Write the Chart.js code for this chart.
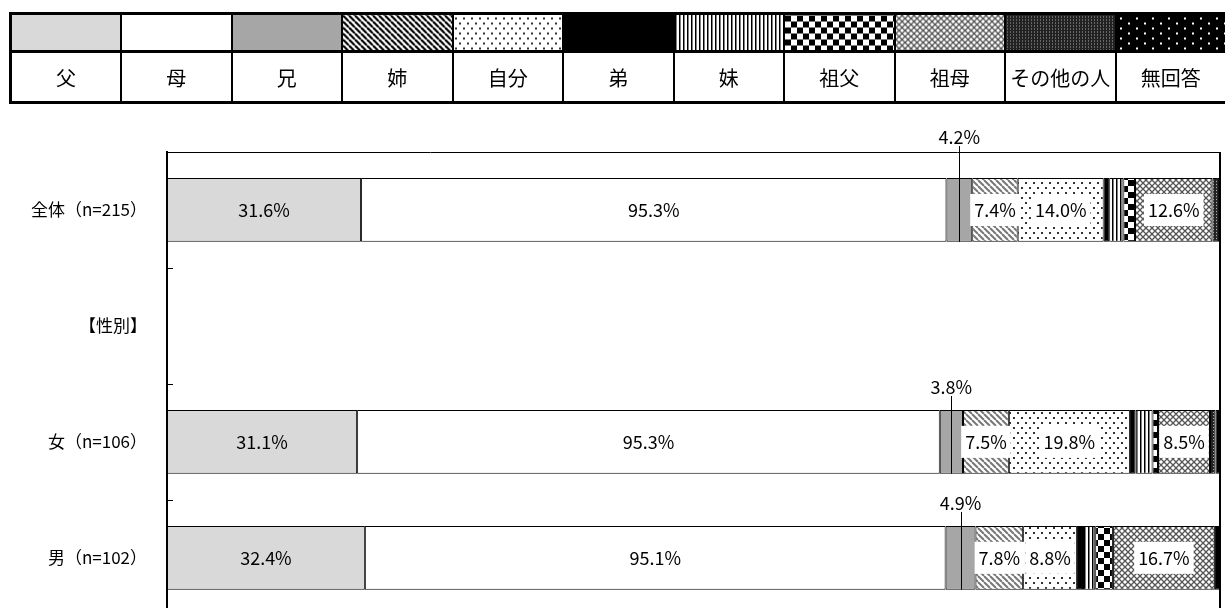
<!DOCTYPE html>
<html>
<head>
<meta charset="utf-8">
<script src="https://cdn.jsdelivr.net/npm/chart.js@4"></script>
<style>
  html, body { margin: 0; padding: 0; background: #fff; overflow: hidden; }
  #wrap { position: relative; width: 1225px; height: 608px; overflow: hidden; }
  #legendTable {
    position: absolute; left: 9px; top: 12px; width: 1218px;
    border-collapse: collapse; table-layout: fixed;
    font-family: "Noto Sans CJK JP", sans-serif; font-size: 20px; color: #000;
    z-index: 2;
  }
  #legendTable td { border: 2px solid #000; text-align: center; padding: 0; }
  #legendTable tr:first-child td { height: 35px; border-top: 3px solid #000; border-bottom: 3px solid #000; }
  #legendTable tr:last-child td { height: 48px; border-bottom: 3px solid #000; }
  #legendTable td:first-child { border-left: 3px solid #000; }
  /* taller than the window: the lowest part of the frame runs off the bottom */
  #chartBox { position: absolute; left: 0; top: 0; width: 1225px; height: 646px; }
</style>
</head>
<body>
<div id="wrap">
  <table id="legendTable">
    <tr id="swatchRow"></tr>
    <tr id="nameRow"></tr>
  </table>
  <div id="chartBox"><canvas id="relChart"></canvas></div>
</div>
<script>
const categories = ['全体（n=215）', '【性別】', '女（n=106）', '男（n=102）'];
const seriesLabels = ['父', '母', '兄', '姉', '自分', '弟', '妹', '祖父', '祖母', 'その他の人', '無回答'];

const chichi   = [31.6, null, 31.1, 32.4];
const haha     = [95.3, null, 95.3, 95.1];
const ani      = [4.2, null, 3.8, 4.9];
const ane      = [7.4, null, 7.5, 7.8];
const jibun    = [14.0, null, 19.8, 8.8];
const otouto   = [0.9, null, 0.9, 1.0];
const imouto   = [2.3, null, 2.8, 2.0];
const sofu     = [1.9, null, 0.9, 2.9];
const sobo     = [12.6, null, 8.5, 16.7];
const sonota   = [0.9, null, 0.9, 0.0];
const mukaitou = [0.5, null, 0.9, 1.0];

const raw = [chichi, haha, ani, ane, jibun, otouto, imouto, sofu, sobo, sonota, mukaitou];

// each row fills the full width (100% stacked)
const totals = categories.map((c, i) => raw.reduce((s, arr) => s + (arr[i] || 0), 0));

function tile(w, h, draw) {
   const c = document.createElement('canvas');
   c.width = w; c.height = h;
   const g = c.getContext('2d');
   draw(g, w, h);
   return c;
}

function stripes(color, width) {
   return tile(6, 6, (g, w, h) => {
      g.fillStyle = '#fff'; g.fillRect(0, 0, w, h);
      g.strokeStyle = color; g.lineWidth = width;
      [-6, 0, 6].forEach(o => { g.beginPath(); g.moveTo(o, 0); g.lineTo(o + 6, 6); g.stroke(); });
   });
}

const tiles = [
   tile(4, 4, (g, w, h) => { g.fillStyle = '#d9d9d9'; g.fillRect(0, 0, w, h); }),
   tile(4, 4, (g, w, h) => { g.fillStyle = '#fff'; g.fillRect(0, 0, w, h); }),
   tile(4, 4, (g, w, h) => { g.fillStyle = '#a6a6a6'; g.fillRect(0, 0, w, h); }),
   stripes('#777', 2),
   tile(8, 10, (g, w, h) => {
      g.fillStyle = '#fff'; g.fillRect(0, 0, w, h);
      g.fillStyle = '#333'; g.fillRect(1, 2, 2, 2); g.fillRect(5, 7, 2, 2);
   }),
   tile(4, 4, (g, w, h) => { g.fillStyle = '#000'; g.fillRect(0, 0, w, h); }),
   tile(4, 4, (g, w, h) => {
      g.fillStyle = '#fff'; g.fillRect(0, 0, w, h);
      g.fillStyle = '#000'; g.fillRect(0, 0, 1.5, h);
   }),
   tile(12, 12, (g, w, h) => {
      g.fillStyle = '#fff'; g.fillRect(0, 0, w, h);
      g.fillStyle = '#000'; g.fillRect(0, 0, 6, 6); g.fillRect(6, 6, 6, 6);
   }),
   tile(6, 6, (g, w, h) => {
      g.fillStyle = '#fff'; g.fillRect(0, 0, w, h);
      g.strokeStyle = '#555'; g.lineWidth = 1.3;
      g.beginPath(); g.moveTo(0, 0); g.lineTo(6, 6); g.moveTo(6, 0); g.lineTo(0, 6); g.stroke();
   }),
   tile(3, 3, (g, w, h) => {
      g.fillStyle = '#222'; g.fillRect(0, 0, w, h);
      g.fillStyle = '#aaa'; g.fillRect(1, 1, 1, 1);
   }),
   tile(16, 10, (g, w, h) => {
      g.fillStyle = '#000'; g.fillRect(0, 0, w, h);
      g.fillStyle = '#fff'; g.fillRect(3, 2, 2, 2); g.fillRect(11, 7, 2, 2);
   })
];

// the legend swatch of 姉 is darker than in the bars
const legendTiles = tiles.slice();
legendTiles[3] = stripes('#000', 2.2);

const swatchRow = document.getElementById('swatchRow');
const nameRow = document.getElementById('nameRow');
seriesLabels.forEach((name, i) => {
   const s = document.createElement('td');
   s.style.backgroundImage = 'url(' + legendTiles[i].toDataURL() + ')';
   swatchRow.appendChild(s);
   const n = document.createElement('td');
   n.textContent = name;
   nameRow.appendChild(n);
});

const ctx = document.getElementById('relChart').getContext('2d');
const patterns = tiles.map(t => ctx.createPattern(t, 'repeat'));

Chart.defaults.font.family = '"Noto Sans CJK JP", sans-serif';
Chart.defaults.color = '#000';

const boxedLabels = [3, 4, 8];
const outsideLabel = 2;
const outsideLift = [41, 0, 23, 23];

const labelPlugin = {
   id: 'segLabels',
   afterDatasetsDraw(chart) {
      const g = chart.ctx;
      const area = chart.chartArea;
      const yScale = chart.scales.y;

      // frame and inner ticks
      g.save();
      g.strokeStyle = '#000';
      g.lineWidth = 1;
      g.beginPath();
      g.moveTo(area.left, area.top + 0.5);
      g.lineTo(area.right, area.top + 0.5);
      g.stroke();
      g.lineWidth = 2;
      g.beginPath();
      g.moveTo(area.right - 1, area.top);
      g.lineTo(area.right - 1, area.bottom);
      g.stroke();
      g.lineWidth = 1;
      for (let i = 0; i < categories.length - 1; i++) {
         const ty = Math.round((yScale.getPixelForValue(i) + yScale.getPixelForValue(i + 1)) / 2) + 0.5;
         g.beginPath();
         g.moveTo(area.left, ty);
         g.lineTo(area.left + 6, ty);
         g.stroke();
      }
      g.restore();

      g.save();
      g.font = '18px "Noto Sans CJK JP", sans-serif';
      g.textAlign = 'center';
      g.textBaseline = 'middle';
      chart.data.datasets.forEach((ds, di) => {
         const meta = chart.getDatasetMeta(di);
         meta.data.forEach((bar, i) => {
            const v = raw[di][i];
            if (v == null || v < 3.5) return;
            const p = bar.getProps(['x', 'base', 'y', 'height'], true);
            const cx = (p.x + p.base) / 2;
            const text = v.toFixed(1) + '%';
            if (di === outsideLabel) {
               const ty = p.y - p.height / 2 - outsideLift[i];
               g.strokeStyle = '#000';
               g.lineWidth = 1;
               g.beginPath();
               g.moveTo(Math.round(cx) + 0.5, ty + 9);
               g.lineTo(Math.round(cx) + 0.5, p.y + p.height / 2);
               g.stroke();
               g.fillStyle = '#000';
               g.fillText(text, cx, ty);
               return;
            }
            if (boxedLabels.includes(di)) {
               const w = g.measureText(text).width + 8;
               g.fillStyle = '#fff';
               g.fillRect(cx - w / 2, p.y - 16, w, 32);
            }
            g.fillStyle = '#000';
            g.fillText(text, cx, p.y);
         });
      });
      g.restore();
   }
};

new Chart(ctx, {
   type: 'bar',
   data: {
      labels: categories,
      datasets: raw.map((arr, di) => ({
         label: seriesLabels[di],
         data: arr.map((v, i) => v == null ? null : v / totals[i] * 100),
         backgroundColor: patterns[di],
         borderColor: '#000',
         borderWidth: 1,
         borderSkipped: false,
         barPercentage: 0.55,
         categoryPercentage: 1
      }))
   },
   options: {
      indexAxis: 'y',
      responsive: true,
      maintainAspectRatio: false,
      animation: false,
      layout: { padding: { top: 152, right: 4, left: 0, bottom: 0 } },
      scales: {
         x: {
            stacked: true,
            min: 0,
            max: 100,
            display: false
         },
         y: {
            stacked: true,
            grid: { display: false, drawTicks: false },
            border: { display: true, color: '#000', width: 2 },
            ticks: { padding: 20, color: '#000', font: { size: 17 } },
            afterFit(scale) { scale.width = 167; }
         }
      },
      plugins: {
         legend: { display: false },
         tooltip: { enabled: false }
      }
   },
   plugins: [labelPlugin]
});
</script>
</body>
</html>
